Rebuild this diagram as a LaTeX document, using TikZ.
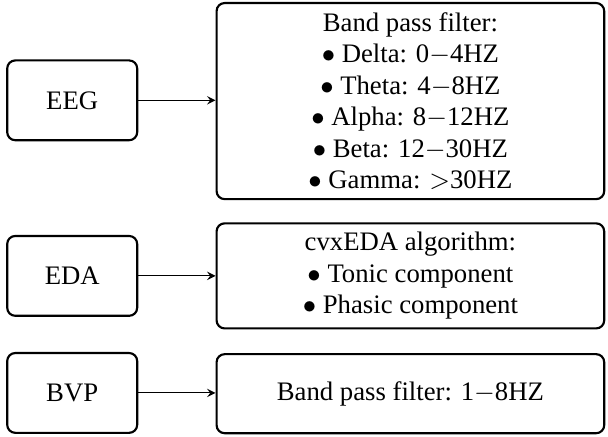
\documentclass[tikz,border=0pt]{standalone}
\usepackage{fontspec}
\setmainfont{Liberation Serif}
\usetikzlibrary{arrows}

\begin{document}
\begin{tikzpicture}[
    signal/.style={draw, thick, rounded corners=3pt, minimum width=1.71cm, minimum height=1.05cm},
    process/.style={draw, thick, rounded corners=3pt, minimum width=5.1cm, align=center,
        font=\fontsize{10}{11.8}\selectfont},
    >=stealth]
    \useasboundingbox (0,0) rectangle (8,-5.74);
    % EEG
    \node[signal] (eeg) at (0.95,-1.32) {EEG};
    \node[process, minimum height=2.58cm] (eegf) at (5.40,-1.33) {Band pass filter:\\
        $\bullet$ Delta: 0$-$4HZ\\
        $\bullet$ Theta: 4$-$8HZ\\
        $\bullet$ Alpha: 8$-$12HZ\\
        $\bullet$ Beta: 12$-$30HZ\\
        $\bullet$ Gamma: $>$30HZ};
    \draw [->] (eeg.east) -- (eeg.east -| eegf.west);
    % EDA
    \node[signal] (eda) at (0.95,-3.63) {EDA};
    \node[process, minimum height=1.38cm] (edaf) at (5.40,-3.63) {cvxEDA algorithm:\\
        $\bullet$ Tonic component\\
        $\bullet$ Phasic component};
    \draw [->] (eda.east) -- (eda.east -| edaf.west);
    % BVP
    \node[signal] (bvp) at (0.95,-5.17) {BVP};
    \node[process, minimum height=1.04cm] (bvpf) at (5.40,-5.18) {Band pass filter: 1$-$8HZ};
    \draw [->] (bvp.east) -- (bvp.east -| bvpf.west);
\end{tikzpicture}
\end{document}
